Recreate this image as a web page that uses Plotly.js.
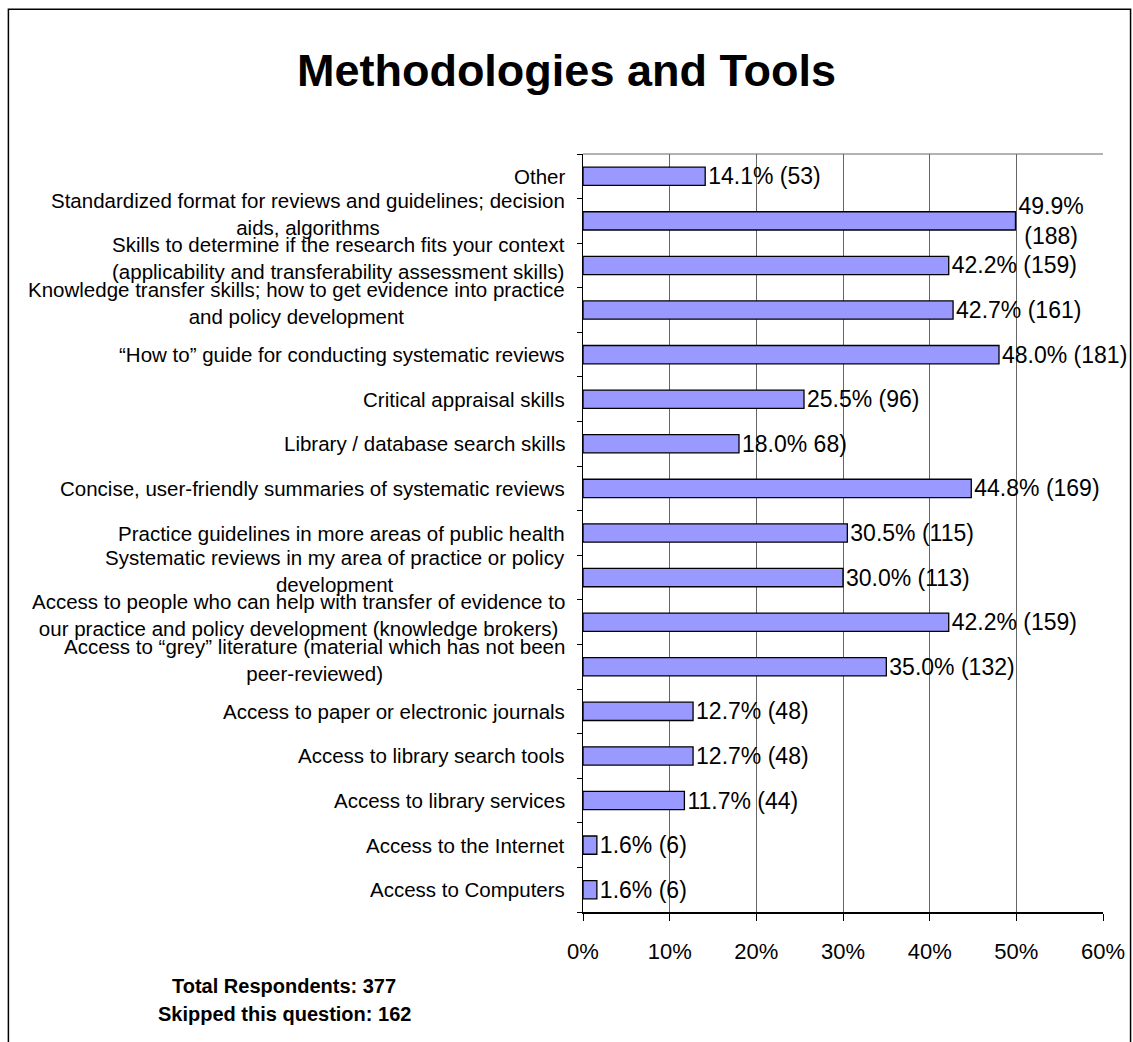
<!DOCTYPE html>
<html>
<head>
<meta charset="utf-8">
<script src="https://cdn.plot.ly/plotly-3.0.1.min.js"></script>
<style>
html,body{margin:0;padding:0;background:#fff;}
#chart{width:1133px;height:1042px;}
</style>
</head>
<body>
<div id="chart"></div>
<script>
// Categories, bottom to top
const categories = [
  "Access to Computers",
  "Access to the Internet",
  "Access to library services",
  "Access to library search tools",
  "Access to paper or electronic journals",
  "Access to \u201cgrey\u201d literature (material which has not been<br>peer-reviewed)",
  "Access to people who can help with transfer of evidence to<br>our practice and policy development (knowledge brokers)",
  "Systematic reviews in my area of practice or policy<br>development",
  "Practice guidelines in more areas of public health",
  "Concise, user-friendly summaries of systematic reviews",
  "Library / database search skills",
  "Critical appraisal skills",
  "\u201cHow to\u201d guide for conducting systematic reviews",
  "Knowledge transfer skills; how to get evidence into practice<br>and policy development",
  "Skills to determine if the research fits your context<br>(applicability and transferability assessment skills)",
  "Standardized format for reviews and guidelines; decision<br>aids, algorithms",
  "Other"
];
const percents = [1.6, 1.6, 11.7, 12.7, 12.7, 35.0, 42.2, 30.0, 30.5, 44.8, 18.0, 25.5, 48.0, 42.7, 42.2, 49.9, 14.1];
const counts   = [6, 6, 44, 48, 48, 132, 159, 113, 115, 169, 68, 96, 181, 161, 159, 188, 53];
const dataLabels = [
  "1.6% (6)", "1.6% (6)", "11.7% (44)", "12.7% (48)", "12.7% (48)",
  "35.0% (132)", "42.2% (159)", "30.0% (113)", "30.5% (115)", "44.8% (169)",
  "18.0% 68)", "25.5% (96)", "48.0% (181)", "42.7% (161)", "42.2% (159)",
  "49.9%<br>(188)", "14.1% (53)"
];
const xTicks = [0, 10, 20, 30, 40, 50, 60];
const titleText = "Methodologies and Tools";
const footerLines = ["Total Respondents: 377", "Skipped this question: 162"];

const FONT = "Liberation Sans, Arial, sans-serif";

const trace = {
  type: "bar",
  orientation: "h",
  y: categories,
  x: percents,
  text: dataLabels,
  customdata: counts,
  textposition: "outside",
  constraintext: "none",
  cliponaxis: false,
  textfont: {family: FONT, size: 23, color: "#000"},
  marker: {color: "#9999FF", line: {color: "#000", width: 1.3}},
  hoverinfo: "none"
};

const annotations = categories.map((c, i) => ({
  xref: "paper", yref: "y",
  x: -0.031, y: c,
  text: c,
  showarrow: false,
  xanchor: "right", yanchor: "middle",
  align: "center",
  yshift: c.indexOf("<br>") >= 0 ? 7 : 0,
  font: {family: FONT, size: 20.5, color: "#000"}
}));
footerLines.forEach((t, i) => {
  annotations.push({
    xref: "paper", yref: "paper",
    x: -0.575, y: -0.097 - i * 0.037,
    text: "<b>" + t + "</b>",
    showarrow: false,
    xanchor: "center", yanchor: "middle",
    font: {family: FONT, size: 20, color: "#000"}
  });
});

const layout = {
  width: 1133, height: 1042,
  margin: {l: 583, r: 30, t: 154, b: 130},
  paper_bgcolor: "#fff",
  plot_bgcolor: "#fff",
  showlegend: false,
  bargap: 0.59,
  title: {
    text: "<b>" + titleText + "</b>",
    x: 0.5, xref: "container", xanchor: "center",
    y: 0.933, yref: "container", yanchor: "middle",
    font: {family: FONT, size: 45, color: "#000"}
  },
  xaxis: {
    range: [0, 60],
    tickvals: xTicks,
    ticktext: xTicks.map(v => v + "%"),
    showgrid: true, gridcolor: "#666", gridwidth: 1,
    zeroline: false,
    showline: true, linecolor: "#000", linewidth: 1.5,
    ticks: "outside", ticklen: 7, tickcolor: "#000",
    ticklabelstandoff: 12,
    tickfont: {family: FONT, size: 22, color: "#000"},
    fixedrange: true
  },
  yaxis: {
    type: "category",
    categoryorder: "array",
    categoryarray: categories,
    range: [-0.5, categories.length - 0.5],
    showticklabels: false,
    showgrid: false,
    zeroline: false,
    showline: true, linecolor: "#000", linewidth: 1.5,
    ticks: "outside", ticklen: 5, tickcolor: "#000",
    tickson: "boundaries",
    fixedrange: true
  },
  shapes: [
    {type: "line", xref: "paper", yref: "paper", x0: 0, x1: 1, y0: 1, y1: 1,
     line: {color: "#666", width: 1}},
    {type: "rect", xref: "paper", yref: "paper",
     x0: -1.105, x1: 1.053, y0: -0.25, y1: 1.191,
     line: {color: "#000", width: 1.5}, fillcolor: "rgba(0,0,0,0)", layer: "below"}
  ],
  annotations: annotations
};

Plotly.newPlot("chart", [trace], layout, {displayModeBar: false, staticPlot: true});
</script>
</body>
</html>
